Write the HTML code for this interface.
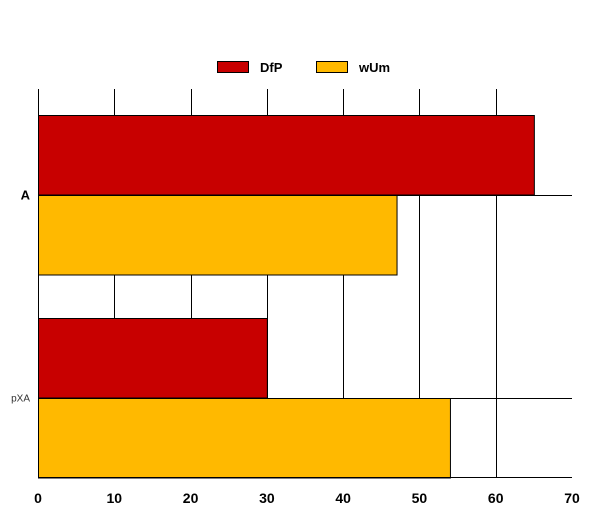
<!DOCTYPE html>
<html><head><meta charset="utf-8"><style>
body{margin:0;background:#fff;}
svg{display:block;font-family:"Liberation Sans",sans-serif;}
</style></head><body>
<svg id="c" width="592" height="518">
<g>
<rect x="217.5" y="61.5" width="31" height="11" fill="#c80000" stroke="#000"/>
<text x="260" y="72" font-size="13" font-weight="bold">DfP</text>
<rect x="316.5" y="61.5" width="31" height="11" fill="#ffb900" stroke="#000"/>
<text x="359" y="72" font-size="13" font-weight="bold">wUm</text>
</g>
</svg>
<script>
const categories = ["A", "pXA"];
const seriesNames = ["DfP", "wUm"];
const dfpValues = [65, 30];
const wumValues = [47, 54];
const tickValues = [0, 10, 20, 30, 40, 50, 60, 70];
const colors = ["#c80000", "#ffb900"];

const svg = document.getElementById('c');
const NS = 'http://www.w3.org/2000/svg';
const x0 = 38, x1 = 572, yTop = 89, yBot = 477;
const xScale = v => x0 + (v - 0) / 70 * (x1 - x0);
const bandTop = 115, bandStep = 203, barH = 79.5;
function mk(tag, attrs){const e=document.createElementNS(NS,tag);for(const k in attrs)e.setAttribute(k,attrs[k]);svg.appendChild(e);return e;}

tickValues.forEach((t,j)=>{
  const x = Math.round(xScale(t))+0.5;
  if (j < tickValues.length-1) {
    const g = mk('line',{x1:x,x2:x,y1:yTop,y2:yBot,stroke:'#000','stroke-width':1});
    
    
  }
  const tx = mk('text',{x:xScale(t),y:503,'font-size':14,'font-weight':'bold','text-anchor':'middle'});
  tx.textContent = t;
  
  
});
const series = [dfpValues, wumValues];
categories.forEach((c,i)=>{
  const top = bandTop + i*bandStep;
  const mid = top + barH;
  const hl = mk('line',{x1:x0,x2:x1,y1:Math.round(mid)+0.5,y2:Math.round(mid)+0.5,stroke:'#000'});
  
  
  series.forEach((vals,s)=>{
    const y = top + s*barH;
    const r = mk('rect',{x:x0+0.5,y:Math.round(y)+0.5,width:xScale(vals[i])-x0,height:barH,fill:colors[s],stroke:'#000'});
    
    
  });
  const lbl = mk('text',{x:30,y:mid+(i===0?5:4),'text-anchor':'end','font-size':i===0?13:10,'font-weight':i===0?'bold':'normal',fill:i===0?'#000':'#333'});
  lbl.textContent = c;
  
  
});
const ax = mk('line',{x1:x0+0.5,x2:x0+0.5,y1:yTop,y2:yBot,stroke:'#000'});


const bx = mk('line',{x1:x0,x2:x1,y1:yBot+0.5,y2:yBot+0.5,stroke:'#000'});


</script>
</body></html>
